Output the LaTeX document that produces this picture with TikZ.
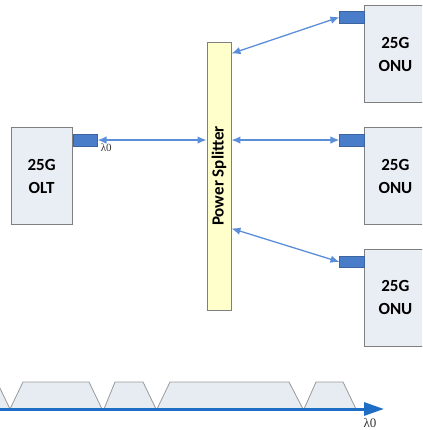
\documentclass[tikz,border=0pt]{standalone}
\usepackage{fontspec}
\setmainfont{Carlito}
\newfontfamily\lamfont{Liberation Serif}
\usepackage{tikz}
\usetikzlibrary{arrows.meta, positioning}
\definecolor{boxfill}{HTML}{E9EDF4}
\definecolor{boxline}{HTML}{7F7F7F}
\definecolor{portblue}{HTML}{4A7DC9}
\definecolor{splitfill}{HTML}{FFFFCC}
\definecolor{linkblue}{HTML}{5B8ED8}
\definecolor{axisblue}{HTML}{1F6EC5}
\definecolor{bandfill}{HTML}{E7ECF2}
\definecolor{bandline}{HTML}{9A9A9A}

\begin{document}
\begin{tikzpicture}[
      x=1pt, y=-1pt,
      unit/.style={rectangle, draw=boxline, fill=boxfill, line width=0.9pt,
                   minimum width=61pt, minimum height=97pt, align=center,
                   font=\fontsize{17}{23}\selectfont\bfseries},
      port/.style={rectangle, draw=portblue!80!black, fill=portblue, line width=0.5pt,
                   inner sep=0pt, minimum width=24.5pt, minimum height=11.5pt},
      split/.style={rectangle, draw=boxline, fill=splitfill, line width=0.9pt,
                    minimum width=24pt, minimum height=268pt, inner sep=0pt},
      lam/.style={font=\lamfont\fontsize{11}{12}\selectfont, inner sep=1pt,
                  text=black!80},
      arr/.style={{Latex[length=9pt,width=7.5pt]}-{Latex[length=9pt,width=7.5pt]},
                  linkblue, line width=1.3pt},
      band/.style={draw=bandline, fill=bandfill, line width=0.8pt},
      axis/.style={-{Triangle[length=20pt,width=13pt]}, axisblue, line width=3pt}
    ]
    \clip (0,0) rectangle (422,430);

    % Splitter
    \node[split] (splitter) at (219,176) {};
    \node[rotate=90, font=\fontsize{17}{20}\selectfont\bfseries] (splittxt)
      at (splitter.center) {Power Splitter};

    % OLT side
    \node[unit, left=134pt of splitter] (olt) {25G\\OLT};
    \node[port, anchor=north west] (oltport) at ([yshift=-7pt]olt.north east) {};

    % ONU side
    \node[unit, right=133pt of splitter] (onu2) {25G\\ONU};
    \node[unit, above=24pt of onu2] (onu1) {25G\\ONU};
    \node[unit, below=24pt of onu2] (onu3) {25G\\ONU};
    \node[port, anchor=north east] (port1) at ([yshift=-6pt]onu1.north west) {};
    \node[port, anchor=north east] (port2) at ([yshift=-7pt]onu2.north west) {};
    \node[port, anchor=north east] (port3) at ([yshift=-7pt]onu3.north west) {};

    \draw[arr] (oltport.east) -- node[lam, below, pos=0.08, yshift=-2pt]{λ0}
      (splitter.west |- oltport.east);
    \draw[arr] (splitter.east |- port2.west) -- (port2.west);
    \draw[arr] ([yshift=-12pt]splitter.north east) -- (port1.west);
    \draw[arr] ([yshift=82pt]splitter.south east) -- (port3.west);

    % Wavelength plan
    \foreach \a/\b/\c/\d in {-30/-17/-3/10, 10/23/89/102, 104/115/143/156,
                             157/170/289/303, 304/316/343/356}
      \draw[band] (\a,409) -- (\b,382) -- (\c,382) -- (\d,409);
    \coordinate (axs) at (-2,409);
    \coordinate (axe) at (384,409);
    \draw[axis] (axs) -- (axe);
    \node[lam, font=\lamfont\fontsize{13}{14}\selectfont] (axlbl)
      at ([xshift=-14pt,yshift=-14pt]axe) {λ0};
\end{tikzpicture}
\end{document}
